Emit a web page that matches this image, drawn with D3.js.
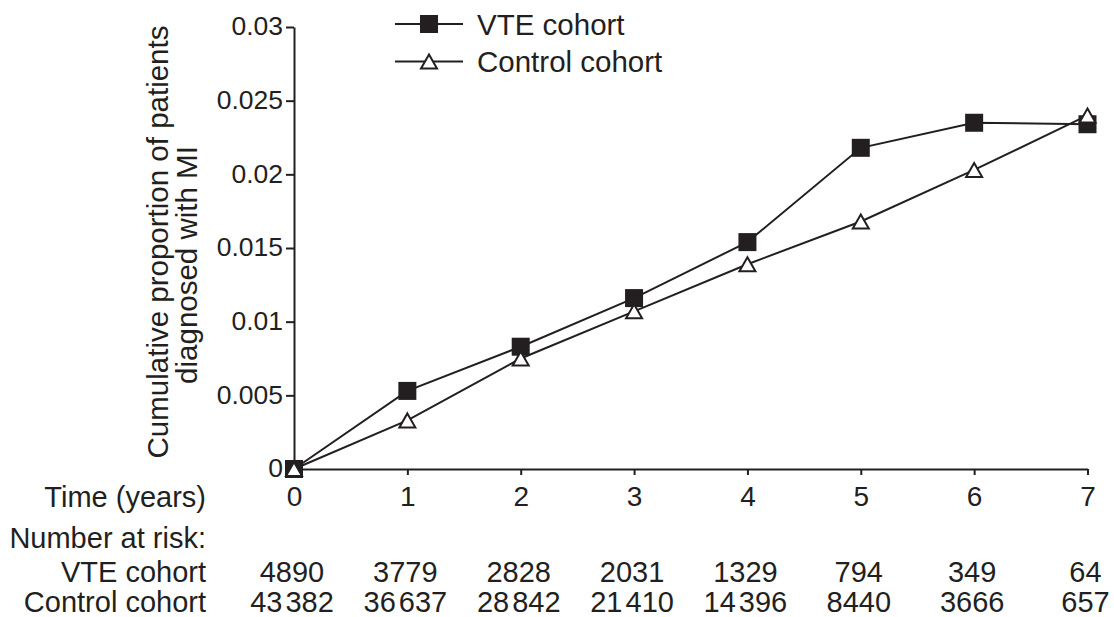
<!DOCTYPE html>
<html>
<head>
<meta charset="utf-8">
<script src="https://cdn.jsdelivr.net/npm/d3@7"></script>
<style>
  html, body { margin: 0; padding: 0; background: #fff; }
  svg { display: block; }
  text { font-family: "Liberation Sans", Arial, Helvetica, sans-serif; fill: #231f20; }
</style>
</head>
<body>
<svg id="chart" width="1114" height="617"></svg>
<script>
// ---- data ----
const years = [0, 1, 2, 3, 4, 5, 6, 7];
const vteValues = [0, 0.0053, 0.0083, 0.0116, 0.0154, 0.0218, 0.0235, 0.0234];
const controlValues = [0, 0.0033, 0.0075, 0.0107, 0.0139, 0.0168, 0.0203, 0.0240];
const yTickValues = [0, 0.005, 0.01, 0.015, 0.02, 0.025, 0.03];
const yTickLabels = ["0", "0.005", "0.01", "0.015", "0.02", "0.025", "0.03"];
const seriesNames = ["VTE cohort", "Control cohort"];
const vteAtRisk = [4890, 3779, 2828, 2031, 1329, 794, 349, 64];
const controlAtRisk = [43382, 36637, 28842, 21410, 14396, 8440, 3666, 657];
const yTitleLines = ["Cumulative proportion of patients", "diagnosed with MI"];
const rowLabels = ["Time (years)", "Number at risk:", "VTE cohort", "Control cohort"];

// ---- layout ----
const INK = "#231f20";
const svg = d3.select("#chart");
const x = d3.scaleLinear().domain([0, 7]).range([294, 1087.5]);
const y = d3.scaleLinear().domain([0, 0.03]).range([469, 27]);

// y axis
const yAxis = d3.axisLeft(y)
  .tickValues(yTickValues)
  .tickFormat((d, i) => yTickLabels[i])
  .tickSize(8).tickSizeOuter(0).tickPadding(3);
const gy = svg.append("g").attr("transform", `translate(${x(0)},0)`).call(yAxis);
gy.selectAll("text").attr("font-size", 26.5).style("fill", INK).attr("dy", "0.3em");

// x axis
const xAxis = d3.axisBottom(x).tickValues(years).tickFormat(d3.format("d"))
  .tickSize(6).tickSizeOuter(0).tickPadding(11);
const gx = svg.append("g").attr("transform", `translate(0,${y(0)})`).call(xAxis);
gx.selectAll("text").attr("font-size", 28).style("fill", INK);

[gx, gy].forEach(g => {
  g.attr("font-family", null);
  g.selectAll("path.domain").attr("stroke", INK).attr("stroke-width", 2);
  g.selectAll(".tick line").attr("stroke", INK).attr("stroke-width", 2);
});

// y axis title (two lines)
const yTitlePos = [[168, 242], [196.5, 265]];
yTitleLines.forEach((t, i) => {
  svg.append("text")
    .attr("transform", `translate(${yTitlePos[i][0]},${yTitlePos[i][1]}) rotate(-90)`)
    .attr("text-anchor", "middle")
    .attr("font-size", 29.5)
    .text(t);
});

// lines
const line = d3.line().x((d, i) => x(years[i])).y(d => y(d));
svg.append("path").datum(vteValues).attr("d", line)
  .attr("fill", "none").attr("stroke", INK).attr("stroke-width", 2);
svg.append("path").datum(controlValues).attr("d", line)
  .attr("fill", "none").attr("stroke", INK).attr("stroke-width", 2);

// markers
const SQ = 18;
function trianglePath(cx, cy) {
  const w = 16, h = 14;
  return `M${cx},${cy - h / 2}L${cx + w / 2},${cy + h / 2}L${cx - w / 2},${cy + h / 2}Z`;
}
svg.append("g").selectAll("rect").data(vteValues).join("rect")
  .attr("x", (d, i) => x(years[i]) - SQ / 2)
  .attr("y", d => y(d) - SQ / 2)
  .attr("width", SQ).attr("height", SQ)
  .attr("fill", INK);
svg.append("g").selectAll("path").data(controlValues).join("path")
  .attr("d", (d, i) => trianglePath(x(years[i]), y(d)))
  .attr("fill", "#fff").attr("stroke", INK).attr("stroke-width", 2)
  .attr("stroke-linejoin", "miter");

// legend
const legendX0 = 395, legendX1 = 463, legendMid = 429, legendTextX = 477;
const legendRows = [24, 61.5];
legendRows.forEach((ly, i) => {
  svg.append("line").attr("x1", legendX0).attr("x2", legendX1)
    .attr("y1", ly).attr("y2", ly).attr("stroke", INK).attr("stroke-width", 2);
  if (i === 0) {
    svg.append("rect").attr("x", legendMid - SQ / 2).attr("y", ly - SQ / 2)
      .attr("width", SQ).attr("height", SQ).attr("fill", INK);
  } else {
    svg.append("path").attr("d", trianglePath(legendMid, ly))
      .attr("fill", "#fff").attr("stroke", INK).attr("stroke-width", 2);
  }
  svg.append("text").attr("x", legendTextX).attr("y", ly + 10.5)
    .attr("font-size", 29.5).text(seriesNames[i]);
});

// row labels
const rowBaselines = [507, 548, 581.5, 611.5];
rowLabels.forEach((t, i) => {
  svg.append("text").attr("x", 206).attr("y", rowBaselines[i])
    .attr("text-anchor", "end").attr("font-size", 29).text(t);
});

// numbers at risk (thin gap for thousands in 5-digit numbers)
[vteAtRisk, controlAtRisk].forEach((row, r) => {
  const t = svg.append("g").selectAll("text").data(row).join("text")
    .attr("x", (d, i) => x(years[i]) - 2)
    .attr("y", rowBaselines[2 + r])
    .attr("text-anchor", "middle")
    .attr("font-size", 29);
  t.each(function (d) {
    const s = String(d);
    const el = d3.select(this);
    if (d >= 10000) {
      el.append("tspan").text(s.slice(0, s.length - 3));
      el.append("tspan").attr("dx", 3).text(s.slice(-3));
    } else {
      el.text(s);
    }
  });
});
</script>
</body>
</html>
